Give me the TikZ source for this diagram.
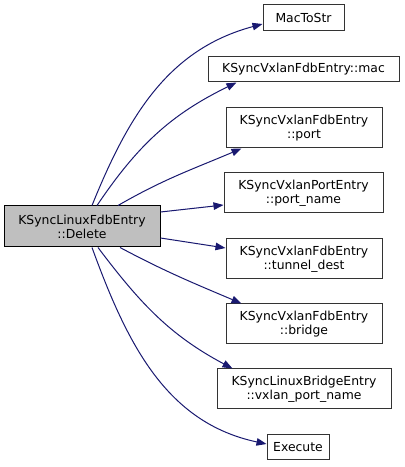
\documentclass[tikz,border=0pt]{standalone}
\usepackage{fontspec}
\setmainfont{DejaVu Sans}
\usetikzlibrary{arrows.meta}
\definecolor{callblue}{HTML}{191970}
\tikzset{
  fn/.style={draw=black!80,fill=white,line width=1pt,align=center,inner sep=0pt,
             font=\fontsize{12.4}{14}\selectfont},
  cur/.style={fn,fill=black!25,draw=black},
  call/.style={draw=callblue,line width=1pt,-{Triangle[length=10pt,width=7.5pt]}},
}
\begin{document}
\begin{tikzpicture}[x=1pt,y=1pt]
  \useasboundingbox (0,0) rectangle (405,467);
  % caller
  \node[cur,minimum width=156pt,minimum height=41pt] (del) at (82,240.5){KSyncLinuxFdbEntry\\::Delete};
  % callees, top to bottom
  \node[fn,minimum width=81pt,minimum height=26pt] (mts) at (303.5,449){MacToStr};
  \node[fn,minimum width=191pt,minimum height=25pt] (mac) at (303.5,397.5){KSyncVxlanFdbEntry::mac};
  \node[fn,minimum width=156pt,minimum height=40pt] (port) at (304,339){KSyncVxlanFdbEntry\\::port};
  \node[fn,minimum width=159pt,minimum height=40pt] (pname) at (303.5,274){KSyncVxlanPortEntry\\::port\_name};
  \node[fn,minimum width=156pt,minimum height=40pt] (tdest) at (304,208){KSyncVxlanFdbEntry\\::tunnel\_dest};
  \node[fn,minimum width=156pt,minimum height=40pt] (brdg) at (304,143){KSyncVxlanFdbEntry\\::bridge};
  \node[fn,minimum width=174pt,minimum height=40pt] (vxpn) at (304,78){KSyncLinuxBridgeEntry\\::vxlan\_port\_name};
  \node[fn,minimum width=62pt,minimum height=25pt] (exec) at (298,19.5){Execute};

  % call edges
  \draw[call] ([xshift=10pt]del.north) to[out=68,in=195] ([yshift=-6pt]mts.west);
  \draw[call] ([xshift=15pt]del.north) to[out=56,in=206] ([xshift=29pt]mac.south west);
  \draw[call] ([xshift=36pt]del.north) to[out=30,in=203] ([xshift=16pt]port.south west);
  \draw[call] ([yshift=14.5pt]del.east) -- ([yshift=-12pt]pname.west);
  \draw[call] ([yshift=-11.5pt]del.east) -- ([yshift=11pt]tdest.west);
  \draw[call] ([xshift=38pt]del.south) to[out=-28,in=157] ([xshift=16pt]brdg.north west);
  \draw[call] ([xshift=16pt]del.south) to[out=-53,in=152] ([xshift=16pt]vxpn.north west);
  \draw[call] ([xshift=10pt]del.south) to[out=-70,in=168] ([yshift=3.5pt]exec.west);
\end{tikzpicture}
\end{document}
